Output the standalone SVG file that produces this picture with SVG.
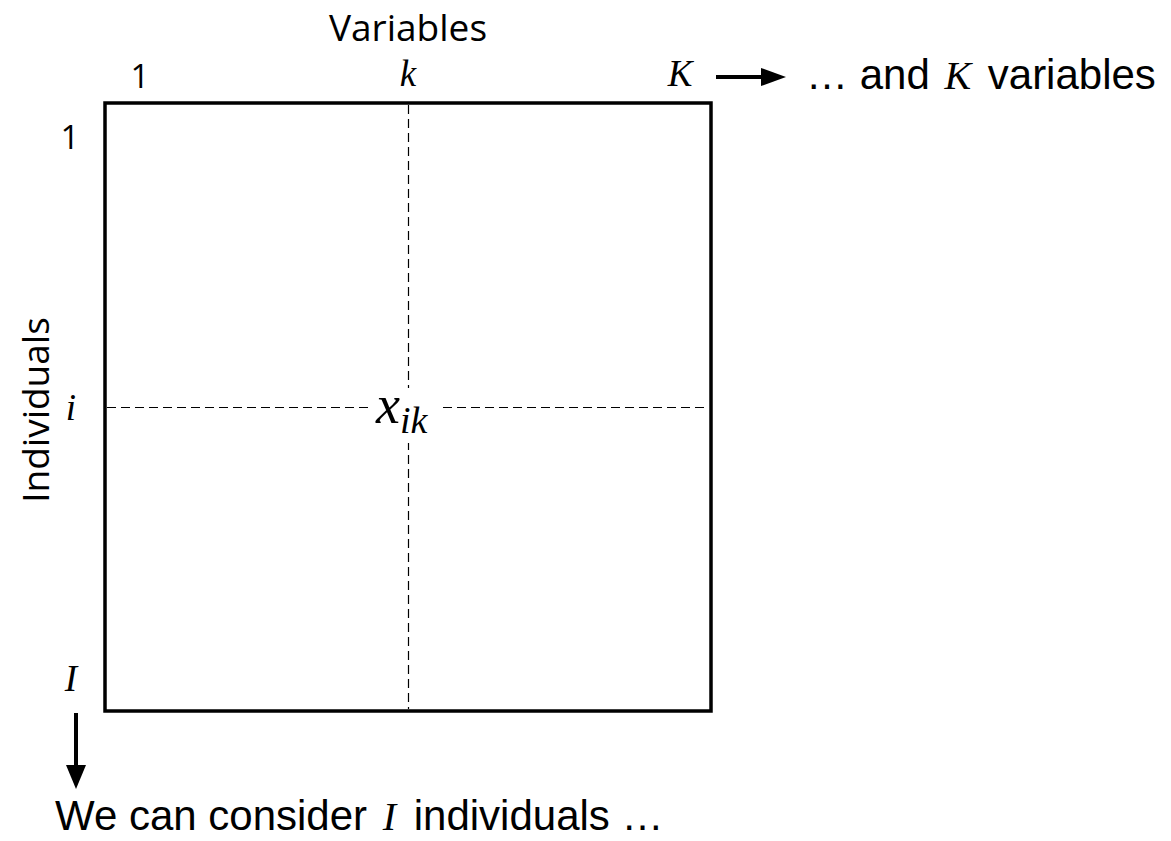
<svg xmlns="http://www.w3.org/2000/svg" width="1171" height="841" viewBox="0 0 1171 841">
<style>
.cal{font-family:"Open Sans","Noto Sans",sans-serif;font-size:37px;fill:#000}
.num{font-family:"Open Sans","Noto Sans",sans-serif;font-size:33px;fill:#000}
.math{font-family:"Liberation Serif","DejaVu Serif",serif;font-style:italic;fill:#000}
.ar{font-family:"Liberation Sans",Arial,sans-serif;font-size:42px;fill:#000}
.dash{stroke:#000;stroke-width:1.2;stroke-dasharray:9,5;fill:none}
</style>
<g id="matrix">
<rect x="105" y="103" width="606" height="608" fill="#fff" stroke="#000" stroke-width="3.5"/>
<line class="dash" x1="408.5" y1="105" x2="408.5" y2="709"/>
<line class="dash" x1="107" y1="407.5" x2="709" y2="407.5"/>
<rect x="370" y="388" width="70" height="55" fill="#fff"/>
<text class="math" x="376" y="423" font-size="54">x<tspan font-size="38" dy="10">ik</tspan></text>
</g>
<g id="col-labels">
<text class="cal" x="408" y="41" text-anchor="middle">Variables</text>
<text class="num" x="140" y="88" text-anchor="middle">1</text>
<text class="math" x="408" y="86" font-size="37" text-anchor="middle">k</text>
<text class="math" x="680" y="86" font-size="37" text-anchor="middle">K</text>
</g>
<g id="row-labels">
<text class="cal" transform="translate(49,410) rotate(-90)" text-anchor="middle">Individuals</text>
<text class="num" x="70" y="149" text-anchor="middle">1</text>
<text class="math" x="71" y="420" font-size="37" text-anchor="middle">i</text>
<text class="math" x="71" y="691" font-size="37" text-anchor="middle">I</text>
</g>
<g id="connectors">
<line x1="716" y1="77" x2="764" y2="77" stroke="#000" stroke-width="4"/>
<path d="M761,68 L786,77 L761,86 Z" fill="#000"/>
<line x1="76" y1="713" x2="76" y2="768" stroke="#000" stroke-width="4"/>
<path d="M66,765 L86,765 L76,789 Z" fill="#000"/>
</g>
<g id="notes">
<text class="ar" x="806" y="89">… and <tspan class="math" font-size="40" dx="3">K</tspan><tspan dx="5"> variables</tspan></text>
<text class="ar" x="55" y="830">We can consider <tspan class="math" font-size="40" dx="4">I</tspan><tspan dx="6"> individuals …</tspan></text>
</g>
</svg>
